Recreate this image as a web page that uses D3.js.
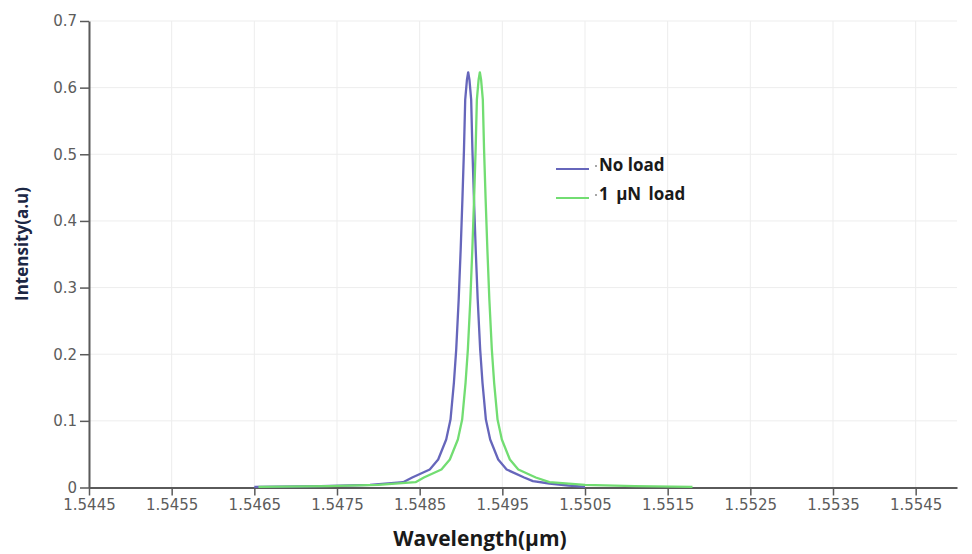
<!DOCTYPE html>
<html>
<head>
<meta charset="utf-8">
<script src="https://cdn.jsdelivr.net/npm/d3@7"></script>
<style>
  html, body { margin: 0; padding: 0; background: #ffffff; }
  svg { display: block; }
</style>
</head>
<body>
<svg id="chart" width="972" height="554"></svg>
<script>
// ---- data ----
const xTicks = [1.5445, 1.5455, 1.5465, 1.5475, 1.5485, 1.5495, 1.5505, 1.5515, 1.5525, 1.5535, 1.5545];
const xTickLabels = ["1.5445", "1.5455", "1.5465", "1.5475", "1.5485", "1.5495", "1.5505", "1.5515", "1.5525", "1.5535", "1.5545"];
const yTicks = [0, 0.1, 0.2, 0.3, 0.4, 0.5, 0.6, 0.7];
const yTickLabels = ["0", "0.1", "0.2", "0.3", "0.4", "0.5", "0.6", "0.7"];
const seriesNames = ["No load", "1 \u00b5N load"];

// No load (wavelength in µm, intensity)
const noLoadWavelength = [1.5465, 1.5473, 1.5479, 1.5483, 1.54841, 1.548622, 1.548724, 1.548821, 1.548873, 1.548914, 1.548942, 1.548972, 1.548996, 1.549017, 1.549036, 1.549051, 1.549072, 1.549087, 1.549102, 1.549123, 1.549138, 1.549157, 1.549178, 1.549202, 1.549232, 1.54926, 1.549301, 1.549353, 1.54945, 1.549552, 1.549764, 1.54987, 1.55007, 1.5503, 1.5505];
const noLoadIntensity  = [0.001, 0.002, 0.004, 0.008, 0.015, 0.027, 0.042, 0.072, 0.102, 0.157, 0.207, 0.282, 0.357, 0.432, 0.507, 0.582, 0.612, 0.623, 0.612, 0.582, 0.507, 0.432, 0.357, 0.282, 0.207, 0.157, 0.102, 0.072, 0.042, 0.027, 0.015, 0.0095, 0.006, 0.003, 0.001];

// 1 µN load
const loadWavelength = [1.54655, 1.5474, 1.548, 1.54845, 1.548551, 1.548763, 1.548865, 1.548962, 1.549014, 1.549055, 1.549083, 1.549113, 1.549137, 1.549158, 1.549177, 1.549192, 1.549213, 1.549228, 1.549243, 1.549264, 1.549279, 1.549298, 1.549319, 1.549343, 1.549373, 1.549401, 1.549442, 1.549494, 1.549591, 1.549693, 1.549905, 1.55007, 1.5505, 1.5511, 1.5518];
const loadIntensity  = [0.001, 0.002, 0.004, 0.008, 0.015, 0.027, 0.042, 0.072, 0.102, 0.157, 0.207, 0.282, 0.357, 0.432, 0.507, 0.582, 0.612, 0.623, 0.612, 0.582, 0.507, 0.432, 0.357, 0.282, 0.207, 0.157, 0.102, 0.072, 0.042, 0.027, 0.015, 0.008, 0.004, 0.002, 0.001];

const colors = ["#6666bb", "#72dd72"];

// ---- drawing ----
const svg = d3.select("#chart");
const x = d3.scaleLinear().domain([1.5445, 1.5550]).range([89, 957]);
const y = d3.scaleLinear().domain([0, 0.7]).range([487.5, 21]);

// gridlines
const grid = svg.append("g");
grid.selectAll("line.v").data(xTicks).join("line")
  .attr("x1", d => x(d)).attr("x2", d => x(d))
  .attr("y1", y(0)).attr("y2", y(0.7))
  .attr("stroke", "#ededed").attr("stroke-width", 1);
grid.selectAll("line.h").data(yTicks.slice(1)).join("line")
  .attr("x1", x(1.5445)).attr("x2", x(1.5550))
  .attr("y1", d => y(d)).attr("y2", d => y(d))
  .attr("stroke", "#ededed").attr("stroke-width", 1);

// axes
const tickFont = "'DejaVu Sans', sans-serif";
const xAxis = d3.axisBottom(x).tickValues(xTicks)
  .tickFormat((d, i) => xTickLabels[i]).tickSize(8).tickSizeOuter(0).tickPadding(4);
const yAxis = d3.axisLeft(y).tickValues(yTicks)
  .tickFormat((d, i) => yTickLabels[i]).tickSize(9).tickSizeOuter(0).tickPadding(3);

const gx = svg.append("g").attr("transform", `translate(0,${y(0)})`).call(xAxis);
const gy = svg.append("g").attr("transform", `translate(${x(1.5445)},0)`).call(yAxis);
[gx, gy].forEach(g => {
  g.select(".domain").attr("stroke", "#5a5a5a").attr("stroke-width", 2);
  g.selectAll(".tick line").attr("stroke", "#5a5a5a").attr("stroke-width", 1.5);
  g.selectAll(".tick text").attr("fill", "#5c5c5c")
    .style("font-family", tickFont).style("font-size", "15px");
});

// lines
const line = d3.line().x(d => x(d[0])).y(d => y(d[1]));
const series = [
  d3.zip(noLoadWavelength, noLoadIntensity),
  d3.zip(loadWavelength, loadIntensity)
];
series.forEach((s, i) => {
  svg.append("path").datum(s)
    .attr("d", line)
    .attr("fill", "none")
    .attr("stroke", colors[i])
    .attr("stroke-width", 2.3)
    .attr("stroke-linejoin", "round");
});

// legend
const legend = svg.append("g");
seriesNames.forEach((name, i) => {
  const yy = 169 + i * 29;
  legend.append("line")
    .attr("x1", 556).attr("x2", 589).attr("y1", yy).attr("y2", yy)
    .attr("stroke", colors[i]).attr("stroke-width", 2);
  legend.append("circle").attr("cx", 596).attr("cy", yy - 3).attr("r", 1)
    .attr("fill", "#888");
  legend.append("text")
    .attr("x", 599).attr("y", yy + 2)
    .attr("fill", "#1a1a1a")
    .style("font-family", "'Open Sans', 'Liberation Sans', sans-serif")
    .style("font-weight", "bold")
    .style("font-size", "17px")
    .style("word-spacing", i === 1 ? "3px" : "0px")
    .text(name);
});

// axis titles
svg.append("text")
  .attr("x", 480).attr("y", 546)
  .attr("text-anchor", "middle")
  .attr("fill", "#1a1a1a")
  .style("font-family", "'Open Sans', 'Liberation Sans', sans-serif")
  .style("font-weight", "bold")
  .style("font-size", "21px")
  .text("Wavelength(\u00b5m)");

svg.append("text")
  .attr("transform", "translate(28,244) rotate(-90)")
  .attr("text-anchor", "middle")
  .attr("fill", "#1c2744")
  .style("font-family", "'Open Sans', 'Liberation Sans', sans-serif")
  .style("font-weight", "bold")
  .style("font-size", "17px")
  .text("Intensity(a.u)");
</script>
</body>
</html>
